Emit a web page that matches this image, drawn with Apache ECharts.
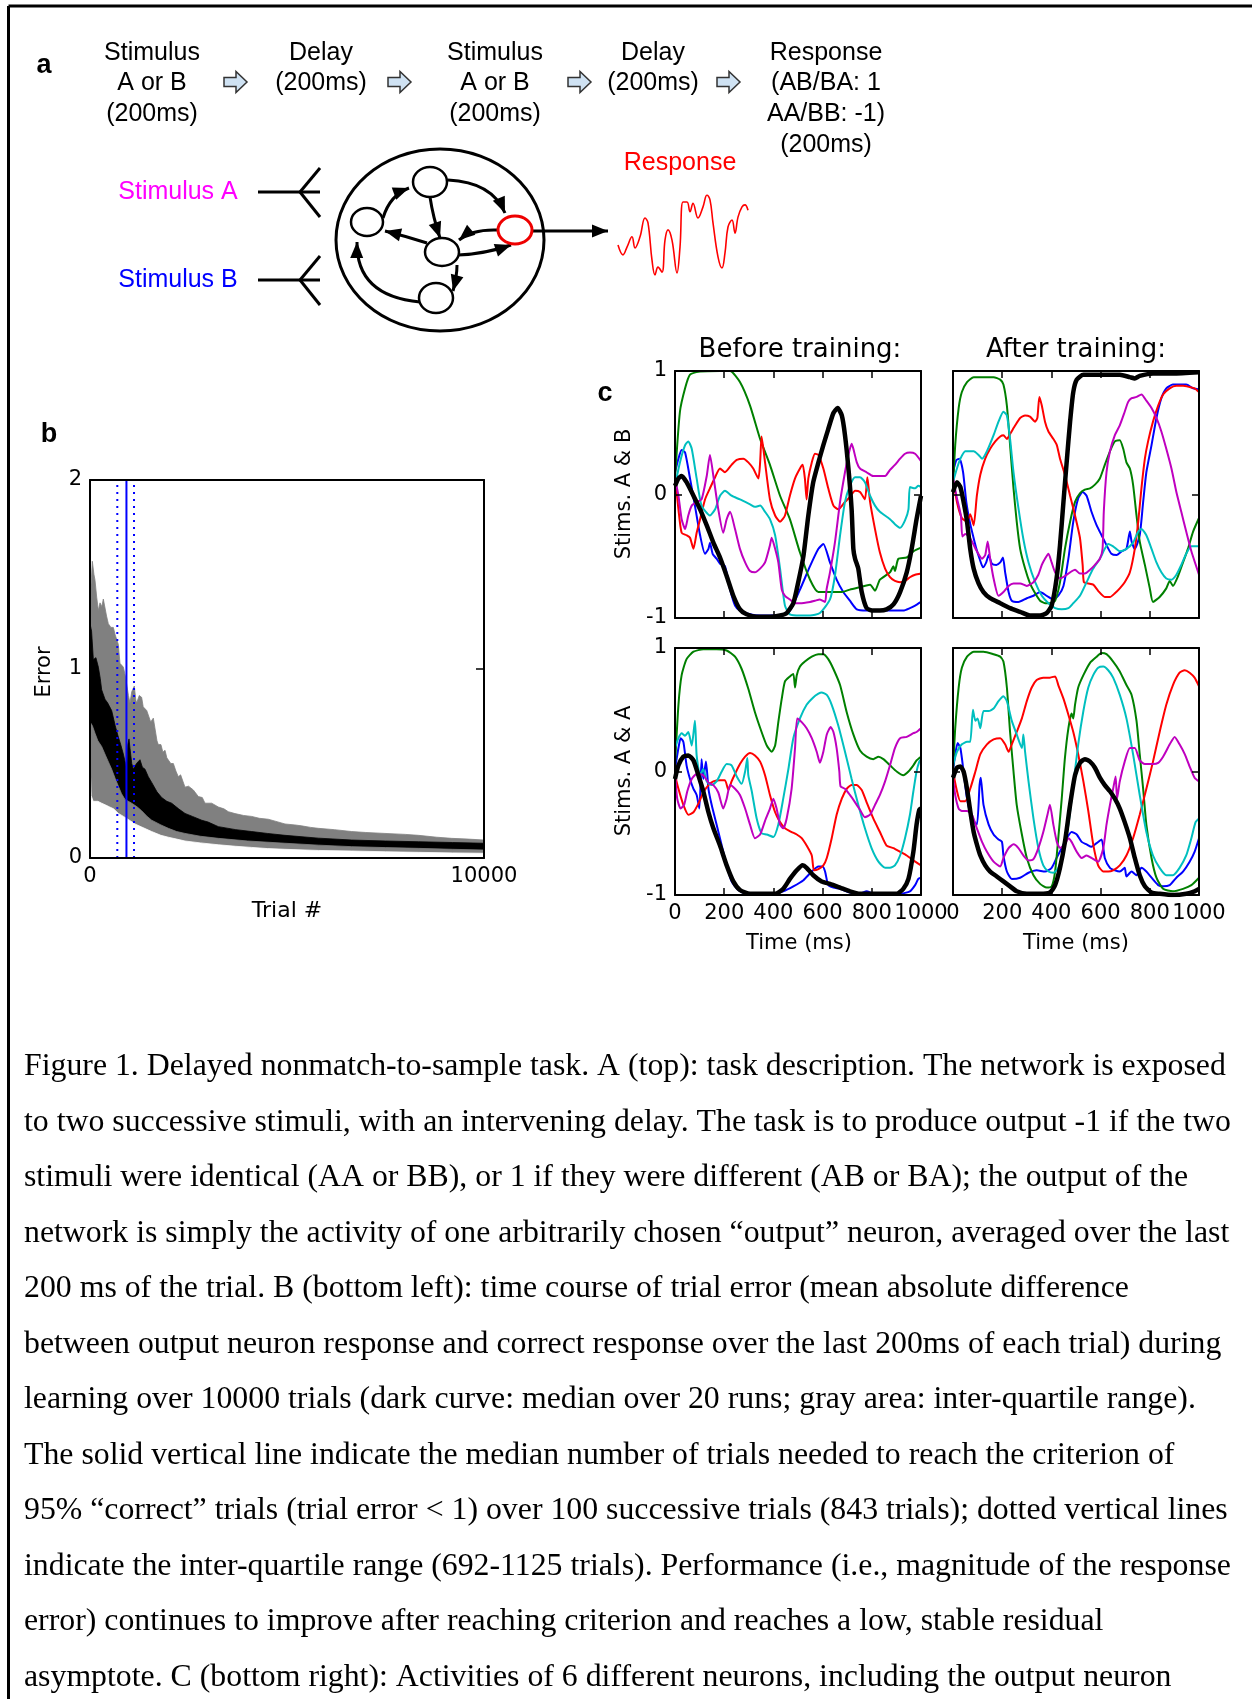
<!DOCTYPE html>
<html><head><meta charset="utf-8">
<script src="https://cdn.jsdelivr.net/npm/echarts@6/dist/echarts.min.js"></script>
<style>html,body{margin:0;padding:0;background:#fff;}#c{width:1252px;height:1699px;}</style>
</head><body><div id="c"></div>
<script>
// ---------- Panel b: learning curve (trial #, error) ----------
const trialRange = [0, 10000];
const errorRange = [0, 2];
const grayUpper = [[0,1.35],[59,1.57],[100,1.5],[127,1.47],[170,1.38],[212,1.31],[254,1.35],[300,1.33],[338,1.37],[381,1.36],[420,1.28],[465,1.24],[530,1.22],[592,1.22],[640,1.18],[677,1.17],[719,1.13],[761,1.03],[800,1.04],[846,1.01],[890,0.97],[931,0.92],[975,0.86],[1015,0.82],[1060,0.88],[1125,0.91],[1160,0.84],[1184,0.82],[1250,0.86],[1311,0.85],[1350,0.8],[1396,0.8],[1440,0.78],[1481,0.78],[1540,0.72],[1607,0.74],[1650,0.74],[1700,0.62],[1734,0.6],[1800,0.6],[1850,0.56],[1904,0.57],[1950,0.53],[1988,0.54],[2050,0.5],[2115,0.5],[2180,0.46],[2242,0.43],[2300,0.44],[2411,0.375],[2500,0.38],[2623,0.36],[2750,0.325],[2850,0.32],[2919,0.29],[3088,0.29],[3257,0.27],[3400,0.26],[3511,0.245],[3680,0.235],[3900,0.225],[4103,0.22],[4300,0.21],[4526,0.205],[4700,0.195],[4949,0.18],[5200,0.175],[5372,0.17],[5600,0.162],[5795,0.157],[6200,0.15],[6641,0.14],[7000,0.135],[7487,0.13],[8000,0.125],[8333,0.12],[8800,0.11],[9179,0.104],[9600,0.1],[10000,0.095]];
const grayLower = [[0,0.5],[30,0.33],[80,0.3],[200,0.3],[296,0.29],[400,0.28],[500,0.27],[600,0.26],[719,0.236],[850,0.22],[1000,0.2],[1142,0.18],[1300,0.165],[1565,0.14],[1800,0.12],[1988,0.11],[2200,0.1],[2411,0.09],[2800,0.08],[3257,0.07],[3700,0.062],[4103,0.056],[4500,0.05],[4949,0.046],[5800,0.04],[6641,0.037],[7500,0.033],[8333,0.03],[9200,0.027],[10000,0.025]];
const medianUpper = [[0,1.24],[40,1.2],[85,1.05],[150,1.06],[212,1.01],[260,0.95],[296,0.89],[381,0.84],[450,0.82],[550,0.78],[640,0.7],[719,0.64],[780,0.6],[846,0.55],[900,0.5],[931,0.47],[960,0.6],[990,0.63],[1015,0.58],[1060,0.5],[1100,0.47],[1180,0.5],[1269,0.52],[1330,0.48],[1396,0.47],[1480,0.43],[1565,0.4],[1700,0.35],[1819,0.32],[1950,0.3],[2073,0.29],[2250,0.26],[2411,0.236],[2600,0.22],[2834,0.2],[3000,0.19],[3257,0.166],[3700,0.15],[4103,0.14],[4500,0.13],[4949,0.12],[5800,0.105],[6641,0.095],[7500,0.09],[8333,0.086],[9200,0.082],[10000,0.078]];
const medianLower = [[0,0.72],[60,0.7],[127,0.66],[200,0.62],[296,0.59],[400,0.54],[550,0.47],[640,0.42],[719,0.38],[800,0.34],[888,0.31],[1058,0.29],[1200,0.27],[1311,0.25],[1450,0.22],[1565,0.2],[1800,0.175],[1988,0.157],[2200,0.14],[2411,0.13],[2800,0.115],[3257,0.104],[4000,0.09],[4949,0.078],[5800,0.068],[6641,0.06],[7500,0.055],[8333,0.051],[9200,0.046],[10000,0.042]];
const criterionMedian = 925;
const criterionQ1 = 693;
const criterionQ3 = 1117;

// ---------- Panel c: neuron activities (time ms, activity) ----------
const timeTicks = [0, 200, 400, 600, 800, 1000];
const beforeAB_blue = [[0,0.18],[14,0.29],[27,0.36],[41,0.34],[61,0.13],[81,-0.09],[102,-0.33],[122,-0.48],[136,-0.44],[142,-0.39],[153,-0.48],[169,-0.52],[183,-0.56],[203,-0.58],[224,-0.77],[244,-0.9],[264,-0.94],[305,-0.97],[346,-0.98],[427,-0.98],[467,-0.94],[508,-0.77],[549,-0.58],[583,-0.44],[603,-0.4],[630,-0.55],[657,-0.69],[684,-0.79],[711,-0.86],[739,-0.93],[779,-0.94],[833,-0.94],[888,-0.94],[928,-0.94],[955,-0.92],[976,-0.9],[1000,-0.87]];
const beforeAB_green = [[0,0.13],[20,0.67],[41,0.86],[61,0.97],[102,0.995],[183,1.0],[224,1.0],[264,0.91],[305,0.72],[346,0.45],[386,0.24],[427,-0.01],[467,-0.2],[508,-0.47],[549,-0.69],[583,-0.79],[630,-0.79],[678,-0.79],[711,-0.77],[752,-0.75],[793,-0.73],[813,-0.78],[833,-0.69],[874,-0.63],[888,-0.58],[894,-0.62],[908,-0.52],[942,-0.51],[969,-0.46],[1000,-0.43]];
const beforeAB_red = [[0,0.15],[14,-0.12],[27,-0.31],[47,-0.33],[61,-0.35],[75,-0.44],[88,-0.31],[102,-0.2],[122,-0.04],[142,0.05],[163,0.14],[183,0.21],[203,0.18],[230,0.24],[251,0.28],[278,0.29],[298,0.26],[318,0.21],[339,0.13],[346,0.26],[352,0.47],[366,0.26],[386,-0.04],[407,-0.17],[427,-0.22],[447,-0.17],[467,-0.01],[488,0.13],[508,0.21],[519,0.24],[528,0.13],[535,-0.04],[542,0.13],[556,0.26],[569,0.33],[583,0.32],[603,0.21],[623,0.05],[644,-0.09],[664,-0.12],[691,-0.06],[711,-0.02],[732,0.03],[752,0.02],[772,-0.04],[782,0.14],[793,-0.06],[813,-0.28],[833,-0.47],[854,-0.6],[874,-0.67],[894,-0.7],[915,-0.71],[935,-0.7],[955,-0.67],[976,-0.65],[1000,-0.64]];
const beforeAB_cyan = [[0,0.07],[20,0.26],[41,0.4],[54,0.43],[68,0.37],[88,0.13],[108,-0.09],[142,-0.17],[163,-0.12],[183,-0.01],[203,0.03],[230,-0.01],[264,-0.04],[305,-0.08],[325,-0.1],[346,-0.09],[366,-0.14],[386,-0.2],[407,-0.33],[427,-0.6],[447,-0.9],[467,-0.97],[508,-0.98],[549,-0.98],[589,-0.96],[630,-0.85],[650,-0.66],[671,-0.33],[691,-0.06],[711,0.07],[732,0.14],[752,0.14],[772,0.1],[793,-0.01],[813,-0.09],[833,-0.14],[874,-0.2],[894,-0.24],[915,-0.27],[935,-0.21],[949,-0.12],[955,0.06],[976,0.05],[989,0.07],[1000,0.06]];
const beforeAB_magenta = [[0,0.13],[14,-0.01],[27,-0.2],[41,-0.28],[54,-0.17],[68,-0.09],[88,-0.06],[108,-0.04],[129,0.15],[142,0.32],[156,0.15],[176,-0.12],[196,-0.31],[210,-0.2],[224,-0.14],[244,-0.28],[264,-0.44],[285,-0.55],[305,-0.62],[325,-0.63],[346,-0.6],[366,-0.55],[386,-0.41],[393,-0.35],[407,-0.44],[420,-0.55],[434,-0.77],[447,-0.82],[467,-0.85],[488,-0.88],[508,-0.88],[549,-0.87],[569,-0.86],[589,-0.85],[610,-0.87],[616,-0.77],[630,-0.63],[650,-0.39],[671,-0.06],[691,0.18],[705,0.32],[718,0.41],[725,0.37],[739,0.26],[752,0.21],[779,0.18],[806,0.15],[833,0.15],[854,0.15],[874,0.2],[894,0.24],[915,0.29],[935,0.33],[955,0.34],[976,0.33],[1000,0.27]];
const beforeAB_output = [[0,0.07],[14,0.13],[27,0.15],[47,0.1],[75,-0.01],[102,-0.12],[129,-0.25],[156,-0.39],[183,-0.51],[210,-0.66],[237,-0.82],[264,-0.93],[291,-0.97],[332,-0.99],[386,-0.99],[427,-0.98],[454,-0.96],[481,-0.88],[501,-0.71],[522,-0.5],[542,-0.17],[562,0.1],[583,0.26],[603,0.4],[623,0.53],[644,0.66],[661,0.7],[678,0.64],[691,0.48],[705,0.21],[718,-0.12],[725,-0.44],[732,-0.52],[745,-0.6],[759,-0.79],[779,-0.92],[806,-0.94],[833,-0.94],[860,-0.93],[888,-0.89],[915,-0.79],[942,-0.63],[962,-0.44],[982,-0.2],[1000,-0.01]];

const afterAB_blue = [[0,0.18],[14,0.28],[27,0.29],[41,0.18],[54,-0.06],[68,-0.22],[81,-0.33],[95,-0.44],[108,-0.52],[122,-0.59],[135,-0.55],[145,-0.49],[158,-0.56],[176,-0.57],[192,-0.55],[203,-0.51],[212,-0.63],[226,-0.79],[239,-0.86],[266,-0.87],[300,-0.84],[327,-0.82],[354,-0.79],[381,-0.82],[408,-0.85],[428,-0.82],[449,-0.74],[469,-0.52],[489,-0.22],[509,-0.03],[527,0.02],[543,-0.01],[563,-0.14],[584,-0.25],[604,-0.33],[624,-0.41],[644,-0.48],[665,-0.49],[685,-0.46],[705,-0.44],[719,-0.3],[726,-0.38],[739,-0.44],[759,-0.33],[773,-0.06],[786,0.18],[807,0.4],[827,0.62],[847,0.78],[867,0.86],[894,0.89],[921,0.89],[948,0.89],[976,0.86],[1000,0.85]];
const afterAB_green = [[0,0.05],[9,0.4],[23,0.7],[36,0.83],[57,0.91],[84,0.95],[124,0.95],[165,0.95],[192,0.93],[205,0.89],[219,0.72],[232,0.4],[246,0.05],[259,-0.22],[273,-0.44],[293,-0.6],[313,-0.72],[334,-0.8],[354,-0.86],[374,-0.88],[394,-0.88],[415,-0.86],[435,-0.71],[455,-0.44],[476,-0.22],[496,-0.06],[516,0.01],[536,0.04],[557,0.05],[577,0.08],[597,0.13],[617,0.24],[638,0.35],[658,0.43],[678,0.44],[692,0.37],[705,0.26],[719,0.21],[732,0.08],[746,-0.17],[759,-0.38],[780,-0.57],[800,-0.76],[813,-0.87],[840,-0.83],[867,-0.76],[881,-0.7],[894,-0.74],[915,-0.66],[935,-0.55],[955,-0.44],[976,-0.3],[1000,-0.19]];
const afterAB_red = [[0,0.13],[16,-0.06],[36,-0.19],[57,-0.22],[70,-0.16],[84,-0.25],[97,-0.01],[111,0.16],[131,0.29],[151,0.37],[172,0.43],[192,0.47],[205,0.48],[219,0.45],[232,0.49],[253,0.56],[273,0.62],[293,0.64],[313,0.63],[334,0.59],[343,0.62],[351,0.79],[361,0.72],[374,0.59],[388,0.51],[408,0.45],[422,0.4],[435,0.29],[455,0.16],[476,-0.01],[496,-0.17],[516,-0.35],[527,-0.57],[532,-0.71],[550,-0.72],[570,-0.73],[590,-0.78],[617,-0.83],[638,-0.83],[658,-0.8],[678,-0.76],[698,-0.71],[719,-0.63],[739,-0.44],[753,-0.22],[766,0.05],[780,0.29],[793,0.43],[813,0.59],[834,0.72],[854,0.81],[881,0.86],[908,0.88],[935,0.88],[962,0.87],[982,0.86],[1000,0.83]];
const afterAB_cyan = [[0,0.1],[16,0.21],[30,0.29],[50,0.35],[84,0.35],[104,0.32],[118,0.29],[138,0.35],[165,0.48],[185,0.59],[205,0.67],[219,0.64],[232,0.45],[246,0.18],[266,-0.11],[286,-0.36],[307,-0.55],[334,-0.71],[361,-0.82],[388,-0.88],[415,-0.92],[442,-0.93],[469,-0.92],[489,-0.88],[516,-0.82],[543,-0.71],[570,-0.6],[597,-0.52],[617,-0.44],[631,-0.4],[651,-0.42],[678,-0.46],[705,-0.44],[732,-0.39],[753,-0.3],[766,-0.28],[786,-0.33],[807,-0.44],[827,-0.55],[847,-0.63],[867,-0.68],[888,-0.69],[908,-0.65],[928,-0.57],[948,-0.48],[969,-0.42],[1000,-0.42]];
const afterAB_magenta = [[0,0.13],[16,-0.03],[32,-0.17],[38,-0.34],[50,-0.32],[64,-0.34],[77,-0.38],[97,-0.46],[118,-0.52],[131,-0.49],[141,-0.38],[151,-0.52],[165,-0.68],[185,-0.82],[205,-0.79],[226,-0.74],[246,-0.72],[273,-0.72],[300,-0.74],[327,-0.71],[347,-0.65],[361,-0.57],[374,-0.52],[388,-0.48],[401,-0.55],[415,-0.63],[435,-0.68],[455,-0.66],[476,-0.63],[496,-0.61],[516,-0.64],[536,-0.64],[557,-0.61],[577,-0.57],[597,-0.52],[608,-0.44],[613,-0.14],[624,0.18],[638,0.35],[658,0.48],[678,0.56],[698,0.67],[712,0.75],[726,0.78],[746,0.79],[766,0.81],[786,0.76],[807,0.7],[827,0.62],[847,0.51],[867,0.37],[888,0.21],[908,0.02],[928,-0.14],[948,-0.3],[969,-0.46],[1000,-0.65]];
const afterAB_output = [[0,0.02],[16,0.1],[30,0.06],[43,-0.06],[57,-0.22],[70,-0.44],[84,-0.6],[104,-0.72],[124,-0.79],[151,-0.84],[192,-0.88],[232,-0.92],[273,-0.95],[313,-0.98],[354,-0.98],[381,-0.96],[401,-0.9],[421,-0.68],[435,-0.41],[449,-0.06],[462,0.26],[476,0.59],[489,0.83],[503,0.93],[530,0.97],[570,0.97],[624,0.97],[678,0.97],[719,0.95],[739,0.94],[759,0.96],[813,0.98],[894,0.98],[1000,0.99]];

const beforeAA_blue = [[0,0.02],[14,0.19],[23,0.27],[34,0.24],[47,0.05],[61,-0.06],[75,-0.14],[88,-0.19],[99,-0.3],[108,0.1],[115,-0.06],[126,0.08],[136,-0.14],[149,-0.27],[169,-0.43],[190,-0.6],[210,-0.76],[230,-0.89],[257,-0.96],[291,-0.99],[346,-0.99],[400,-0.99],[440,-0.97],[481,-0.93],[522,-0.88],[556,-0.81],[583,-0.77],[600,-0.77],[610,-0.81],[623,-0.92],[644,-0.94],[671,-0.95],[711,-0.98],[752,-0.99],[779,-0.97],[806,-0.99],[860,-0.99],[915,-0.99],[955,-0.97],[976,-0.92],[989,-0.87],[1000,-0.86]];
const beforeAA_green = [[0,0.05],[14,0.54],[27,0.78],[47,0.91],[75,0.97],[115,0.99],[169,0.99],[210,0.98],[244,0.93],[271,0.83],[298,0.67],[325,0.48],[352,0.32],[373,0.21],[393,0.16],[407,0.21],[420,0.4],[434,0.59],[447,0.73],[467,0.77],[481,0.79],[488,0.68],[495,0.78],[508,0.85],[528,0.89],[556,0.93],[583,0.95],[603,0.95],[623,0.91],[644,0.83],[671,0.7],[698,0.48],[725,0.3],[752,0.17],[779,0.12],[806,0.1],[827,0.12],[847,0.1],[874,0.05],[901,0],[928,-0.03],[949,0],[969,0.05],[982,0.09],[1000,0.12]];
const beforeAA_red = [[0,-0.03],[14,-0.14],[34,-0.27],[54,-0.35],[75,-0.33],[95,-0.26],[115,-0.17],[136,-0.11],[156,-0.08],[183,-0.07],[203,-0.07],[217,-0.15],[230,-0.08],[244,-0.02],[264,0.06],[285,0.12],[305,0.15],[325,0.13],[346,0.08],[366,-0.03],[386,-0.19],[407,-0.33],[427,-0.41],[447,-0.46],[474,-0.49],[495,-0.51],[515,-0.54],[535,-0.6],[556,-0.68],[565,-0.8],[583,-0.79],[603,-0.76],[617,-0.7],[637,-0.54],[657,-0.35],[678,-0.22],[698,-0.14],[718,-0.11],[738,-0.11],[759,-0.15],[779,-0.25],[806,-0.38],[833,-0.49],[860,-0.6],[888,-0.62],[915,-0.65],[942,-0.68],[969,-0.72],[1000,-0.76]];
const beforeAA_cyan = [[0,0.19],[14,0.27],[27,0.31],[41,0.29],[54,0.32],[68,0.21],[81,0.41],[88,0.13],[102,-0.03],[115,0.02],[129,-0.08],[149,-0.11],[169,-0.08],[190,0],[210,0.06],[230,0.05],[251,-0.04],[271,-0.1],[285,0],[294,0.11],[298,-0.03],[312,-0.16],[332,-0.38],[352,-0.5],[373,-0.51],[400,-0.53],[420,-0.43],[440,-0.22],[461,0.02],[481,0.27],[508,0.43],[535,0.54],[562,0.6],[583,0.63],[596,0.64],[617,0.62],[637,0.54],[664,0.37],[691,0.16],[718,-0.06],[745,-0.27],[772,-0.46],[799,-0.62],[827,-0.73],[854,-0.78],[874,-0.78],[894,-0.76],[915,-0.68],[935,-0.54],[955,-0.35],[969,-0.16],[982,0],[993,0.08],[1000,0.1]];
const beforeAA_magenta = [[0,0],[9,-0.22],[23,-0.3],[37,-0.27],[50,-0.16],[68,-0.06],[88,-0.02],[115,-0.03],[136,-0.09],[156,-0.11],[176,-0.17],[196,-0.3],[210,-0.22],[224,-0.11],[244,-0.14],[264,-0.19],[285,-0.3],[305,-0.43],[325,-0.54],[346,-0.51],[366,-0.4],[386,-0.3],[400,-0.22],[413,-0.3],[427,-0.43],[440,-0.46],[454,-0.38],[474,-0.14],[488,0.19],[497,0.43],[515,0.4],[535,0.35],[556,0.27],[576,0.16],[589,0.07],[603,0.16],[617,0.3],[633,0.36],[644,0.32],[657,0.19],[668,0],[673,-0.12],[691,-0.14],[711,-0.19],[732,-0.25],[752,-0.31],[772,-0.37],[793,-0.35],[813,-0.27],[833,-0.19],[854,-0.08],[874,0.05],[894,0.19],[915,0.27],[942,0.28],[969,0.31],[982,0.32],[1000,0.35]];
const beforeAA_output = [[0,-0.06],[14,0.05],[34,0.12],[54,0.13],[75,0.09],[95,-0.03],[115,-0.16],[136,-0.33],[156,-0.46],[183,-0.6],[210,-0.76],[237,-0.89],[264,-0.96],[305,-0.99],[359,-0.99],[407,-0.99],[440,-0.95],[467,-0.87],[495,-0.8],[519,-0.76],[535,-0.78],[562,-0.84],[596,-0.89],[630,-0.91],[671,-0.94],[711,-0.97],[752,-0.99],[806,-0.99],[860,-0.99],[901,-0.99],[928,-0.95],[949,-0.87],[969,-0.65],[982,-0.43],[993,-0.31],[1000,-0.3]];

const afterAA_blue = [[0,0],[9,0.14],[19,0.23],[30,0.19],[43,0],[57,-0.22],[77,-0.38],[97,-0.43],[108,-0.11],[113,-0.05],[124,-0.27],[145,-0.43],[165,-0.51],[185,-0.55],[199,-0.57],[205,-0.68],[219,-0.81],[239,-0.87],[273,-0.86],[307,-0.82],[340,-0.8],[374,-0.81],[401,-0.78],[421,-0.7],[442,-0.62],[462,-0.54],[482,-0.49],[503,-0.51],[523,-0.57],[543,-0.59],[563,-0.61],[584,-0.58],[604,-0.55],[617,-0.7],[638,-0.78],[658,-0.8],[678,-0.81],[698,-0.78],[705,-0.85],[726,-0.81],[746,-0.84],[766,-0.78],[786,-0.81],[807,-0.86],[834,-0.92],[854,-0.93],[881,-0.92],[908,-0.86],[935,-0.81],[962,-0.73],[982,-0.65],[1000,-0.54]];
const afterAA_green = [[0,0],[9,0.35],[23,0.68],[36,0.84],[57,0.93],[84,0.97],[124,0.97],[165,0.95],[192,0.93],[205,0.89],[219,0.68],[232,0.32],[246,0],[259,-0.27],[280,-0.51],[300,-0.7],[327,-0.84],[354,-0.91],[381,-0.94],[401,-0.93],[415,-0.81],[428,-0.54],[442,-0.22],[455,0.11],[469,0.35],[482,0.47],[489,0.43],[496,0.54],[509,0.68],[530,0.78],[557,0.88],[584,0.93],[604,0.96],[624,0.95],[651,0.89],[678,0.81],[705,0.7],[726,0.62],[746,0.41],[759,0.14],[773,-0.14],[786,-0.43],[807,-0.7],[827,-0.86],[854,-0.95],[894,-0.97],[935,-0.95],[969,-0.92],[1000,-0.86]];
const afterAA_red = [[0,0],[14,-0.14],[30,-0.24],[50,-0.24],[70,-0.14],[91,0],[111,0.14],[138,0.22],[165,0.26],[192,0.27],[212,0.22],[226,0.16],[239,0.22],[259,0.32],[280,0.43],[300,0.57],[320,0.68],[340,0.74],[367,0.76],[394,0.76],[415,0.77],[428,0.7],[449,0.59],[469,0.46],[489,0.32],[509,0.14],[530,-0.08],[550,-0.32],[570,-0.59],[590,-0.76],[611,-0.81],[631,-0.81],[651,-0.8],[678,-0.76],[705,-0.68],[732,-0.54],[759,-0.35],[786,-0.14],[813,0.08],[840,0.32],[867,0.54],[894,0.7],[921,0.8],[942,0.82],[962,0.8],[982,0.76],[1000,0.69]];
const afterAA_cyan = [[0,0.05],[16,0.16],[36,0.22],[57,0.24],[70,0.24],[81,0.5],[91,0.41],[100,0.43],[111,0.35],[124,0.49],[145,0.49],[165,0.51],[185,0.57],[205,0.61],[219,0.57],[239,0.41],[259,0.3],[280,0.19],[286,0.3],[293,0.16],[307,-0.08],[327,-0.38],[347,-0.62],[367,-0.76],[388,-0.81],[408,-0.82],[428,-0.78],[449,-0.65],[469,-0.43],[489,-0.11],[509,0.22],[530,0.49],[550,0.68],[570,0.78],[590,0.84],[611,0.85],[631,0.82],[651,0.76],[678,0.62],[705,0.43],[732,0.14],[759,-0.19],[786,-0.49],[813,-0.68],[840,-0.78],[867,-0.84],[894,-0.84],[921,-0.78],[948,-0.68],[969,-0.54],[986,-0.41],[1000,-0.38]];
const afterAA_magenta = [[0,-0.05],[9,-0.19],[23,-0.3],[36,-0.32],[57,-0.32],[77,-0.35],[97,-0.46],[118,-0.57],[138,-0.65],[165,-0.73],[192,-0.77],[205,-0.7],[226,-0.62],[246,-0.59],[266,-0.62],[286,-0.68],[307,-0.72],[327,-0.71],[347,-0.62],[367,-0.49],[384,-0.35],[394,-0.27],[408,-0.43],[422,-0.57],[435,-0.62],[455,-0.59],[469,-0.54],[482,-0.57],[503,-0.65],[523,-0.7],[543,-0.68],[563,-0.7],[590,-0.73],[611,-0.62],[624,-0.43],[638,-0.27],[651,-0.14],[661,-0.04],[667,-0.22],[678,-0.08],[698,0.08],[719,0.19],[739,0.19],[759,0.09],[780,0.06],[813,0.06],[834,0.07],[854,0.12],[881,0.22],[901,0.28],[921,0.22],[942,0.14],[962,0.04],[982,-0.05],[1000,-0.08]];
const afterAA_output = [[0,-0.05],[16,0.03],[30,0.04],[43,0],[57,-0.14],[70,-0.32],[84,-0.49],[97,-0.59],[111,-0.68],[131,-0.76],[151,-0.81],[178,-0.85],[205,-0.89],[232,-0.93],[259,-0.97],[300,-0.99],[354,-0.99],[394,-0.98],[415,-0.92],[435,-0.78],[455,-0.57],[476,-0.27],[496,-0.03],[516,0.07],[536,0.1],[557,0.08],[577,0.03],[597,-0.05],[617,-0.11],[638,-0.16],[658,-0.22],[678,-0.3],[698,-0.41],[719,-0.54],[739,-0.7],[759,-0.84],[780,-0.93],[807,-0.98],[840,-0.99],[894,-1.0],[948,-0.99],[982,-0.97],[1000,-0.95]];

// schematic response trace (time, amplitude)
const responseTrace = [[0,-0.22],[5,-0.46],[9,-0.27],[14,-0.02],[17,-0.29],[22,-0.02],[27,0.44],[30,0.32],[34,-0.59],[37,-0.95],[40,-0.76],[44,-0.88],[47,-0.1],[50,0.15],[54,-0.1],[59,-0.9],[62,-0.27],[65,0.83],[69,0.83],[72,0.59],[75,0.8],[80,0.44],[85,0.71],[89,1.0],[92,0.88],[95,0.32],[100,-0.51],[104,-0.78],[107,-0.41],[110,0.22],[114,0.39],[117,0.07],[120,0.46],[124,0.71],[127,0.76],[130,0.63]];

const captionLines = [
"Figure 1. Delayed nonmatch-to-sample task. A (top): task description. The network is exposed",
"to two successive stimuli, with an intervening delay. The task is to produce output -1 if the two",
"stimuli were identical (AA or BB), or 1 if they were different (AB or BA); the output of the",
"network is simply the activity of one arbitrarily chosen \u201coutput\u201d neuron, averaged over the last",
"200 ms of the trial. B (bottom left): time course of trial error (mean absolute difference",
"between output neuron response and correct response over the last 200ms of each trial) during",
"learning over 10000 trials (dark curve: median over 20 runs; gray area: inter-quartile range).",
"The solid vertical line indicate the median number of trials needed to reach the criterion of",
"95% \u201ccorrect\u201d trials (trial error < 1) over 100 successive trials (843 trials); dotted vertical lines",
"indicate the inter-quartile range (692-1125 trials). Performance (i.e., magnitude of the response",
"error) continues to improve after reaching criterion and reaches a low, stable residual",
"asymptote. C (bottom right): Activities of 6 different neurons, including the output neuron"
];

// ---------- build ----------
const FONT = 'DejaVu Sans';
const SANS = 'Liberation Sans';
const chart = echarts.init(document.getElementById('c'), null, {renderer: 'canvas'});

const grids = [
  {left: 90, top: 480, width: 394, height: 378},
  {left: 675, top: 371, width: 246, height: 247},
  {left: 953, top: 371, width: 246, height: 247},
  {left: 675, top: 648, width: 246, height: 247},
  {left: 953, top: 648, width: 246, height: 247},
  {left: 618, top: 195, width: 130, height: 82}
].map(g => Object.assign({containLabel: false, outerBoundsMode: 'none', show: false}, g));

const lineAx = {show: true, onZero: false, lineStyle: {color: '#000', width: 2}};
const plain = v => String(v);
const lbl = (show) => ({show, fontFamily: FONT, fontSize: 21, color: '#000', margin: 8, formatter: plain});
const xAxes = [], yAxes = [];
// panel b
xAxes.push({gridIndex: 0, type: 'value', position: 'bottom', min: trialRange[0], max: trialRange[1], interval: 10000,
  axisLine: lineAx, axisTick: {show: false}, axisLabel: lbl(true), splitLine: {show: false}, z: 10});
xAxes.push({gridIndex: 0, type: 'value', position: 'top', min: trialRange[0], max: trialRange[1], interval: 10000,
  axisLine: lineAx, axisTick: {show: false}, axisLabel: {show: false}, splitLine: {show: false}, z: 10});
yAxes.push({gridIndex: 0, type: 'value', position: 'left', min: errorRange[0], max: errorRange[1], interval: 1,
  axisLine: lineAx, axisTick: {show: true, inside: true, length: 8, lineStyle: {color: '#000', width: 1.5}}, axisLabel: lbl(true), splitLine: {show: false}, z: 10});
yAxes.push({gridIndex: 0, type: 'value', position: 'right', min: errorRange[0], max: errorRange[1], interval: 1,
  axisLine: lineAx, axisTick: {show: true, inside: true, length: 8, lineStyle: {color: '#000', width: 1.5}}, axisLabel: {show: false}, splitLine: {show: false}, z: 10});
// panel c
for (let g = 1; g <= 4; g++) {
  const isBottom = g >= 3, isLeft = (g % 2) === 1;
  const tick = {show: true, inside: true, length: 7, lineStyle: {color: '#000', width: 1.5}};
  xAxes.push({gridIndex: g, type: 'value', position: 'bottom', min: timeTicks[0], max: timeTicks[timeTicks.length-1], interval: 200,
    axisLine: lineAx, axisTick: tick, axisLabel: Object.assign(lbl(isBottom), {showMinLabel: true, showMaxLabel: true, hideOverlap: false}), splitLine: {show: false}, z: 10});
  xAxes.push({gridIndex: g, type: 'value', position: 'top', min: 0, max: 1000, interval: 200,
    axisLine: lineAx, axisTick: tick, axisLabel: {show: false}, splitLine: {show: false}, z: 10});
  yAxes.push({gridIndex: g, type: 'value', position: 'left', min: -1, max: 1, interval: 1,
    axisLine: lineAx, axisTick: tick, axisLabel: lbl(isLeft), splitLine: {show: false}, z: 10});
  yAxes.push({gridIndex: g, type: 'value', position: 'right', min: -1, max: 1, interval: 1,
    axisLine: lineAx, axisTick: tick, axisLabel: {show: false}, splitLine: {show: false}, z: 10});
}
// schematic trace grid
xAxes.push({gridIndex: 5, type: 'value', min: 0, max: 130, show: false});
xAxes.push({gridIndex: 5, type: 'value', min: 0, max: 130, show: false, position: 'top'});
yAxes.push({gridIndex: 5, type: 'value', min: -1, max: 1, show: false});
yAxes.push({gridIndex: 5, type: 'value', min: -1, max: 1, show: false, position: 'right'});

const series = [];
function fill(data, color, z) {
  series.push({type: 'line', xAxisIndex: 0, yAxisIndex: 0, data, showSymbol: false, symbol: 'none',
    lineStyle: {width: 0.8, color}, areaStyle: {color, opacity: 1, origin: 'start'}, z, silent: true});
}
fill(grayUpper, '#808080', 2);
fill(medianUpper, '#000000', 3);
fill(medianLower, '#808080', 4);
fill(grayLower, '#ffffff', 5);
function vline(x, type) {
  series.push({type: 'line', xAxisIndex: 0, yAxisIndex: 0, data: [[x, errorRange[0]], [x, errorRange[1]]], showSymbol: false, symbol: 'none',
    lineStyle: {color: '#0000ff', width: 2, type}, z: 6, silent: true});
}
vline(criterionMedian, 'solid');
vline(criterionQ1, [2, 5]);
vline(criterionQ3, [2, 5]);

const COLORS = {blue: '#0000ff', green: '#008000', red: '#ff0000', cyan: '#00bfbf', magenta: '#bf00bf', output: '#000000'};
const panels = [
  [beforeAB_blue, beforeAB_green, beforeAB_red, beforeAB_cyan, beforeAB_magenta, beforeAB_output],
  [afterAB_blue, afterAB_green, afterAB_red, afterAB_cyan, afterAB_magenta, afterAB_output],
  [beforeAA_blue, beforeAA_green, beforeAA_red, beforeAA_cyan, beforeAA_magenta, beforeAA_output],
  [afterAA_blue, afterAA_green, afterAA_red, afterAA_cyan, afterAA_magenta, afterAA_output]
];
const order = ['blue', 'green', 'red', 'cyan', 'magenta', 'output'];
panels.forEach((arrs, pi) => {
  const g = pi + 1;
  arrs.forEach((d, k) => {
    const isOut = order[k] === 'output';
    series.push({type: 'line', xAxisIndex: g * 2, yAxisIndex: g * 2, data: d, showSymbol: false, symbol: 'none',
      smooth: 0.2, lineStyle: {color: COLORS[order[k]], width: isOut ? 4.5 : 2}, z: isOut ? 8 : 3 + k * 0.1, silent: true});
  });
});
series.push({type: 'line', xAxisIndex: 10, yAxisIndex: 10, data: responseTrace, showSymbol: false, symbol: 'none', smooth: 0.4,
  lineStyle: {color: '#ff0000', width: 1.6}, silent: true});

// ---------- graphics ----------
const G = [];
function txt(x, y, text, size, opts) {
  opts = opts || {};
  const family = opts.family || SANS;
  G.push({type: 'text', x, y, rotation: opts.rotation || 0, z: 20,
    style: {text, fill: opts.color || '#000', font: (opts.weight || 'normal') + ' ' + size + 'px "' + family + '"',
      align: opts.align || 'center', textAlign: opts.align || 'center', verticalAlign: 'middle', textVerticalAlign: 'middle'}});
}
function seg(x1, y1, x2, y2, w, c) {
  G.push({type: 'line', shape: {x1, y1, x2, y2}, style: {stroke: c || '#000', lineWidth: w}, z: 20});
}
// frame
seg(8.5, 6, 1252, 6, 3);
seg(8.5, 6, 8.5, 1699, 3);
// panel a header texts
txt(44, 66, 'a', 27, {weight: 'bold'});
const rows = [53, 83, 114, 145];
[[152, ['Stimulus', 'A or B', '(200ms)']], [321, ['Delay', '(200ms)']], [495, ['Stimulus', 'A or B', '(200ms)']],
 [653, ['Delay', '(200ms)']], [826, ['Response', '(AB/BA: 1', 'AA/BB: -1)', '(200ms)']]].forEach(([x, ls]) => {
  ls.forEach((s, i) => txt(x, rows[i], s, 25));
});
// block arrows
[235, 399, 579, 728].forEach(cx => {
  const cy = 82;
  G.push({type: 'polygon', z: 20, shape: {points: [[cx-11, cy-4.5], [cx+1, cy-4.5], [cx+1, cy-10.5], [cx+12, cy], [cx+1, cy+10.5], [cx+1, cy+4.5], [cx-11, cy+4.5]]},
    style: {fill: '#cfe2f3', stroke: '#333', lineWidth: 1.5}});
});
// stimulus labels and input forks
txt(178, 192, 'Stimulus A', 25, {color: '#ff00ff'});
txt(178, 280, 'Stimulus B', 25, {color: '#0000ff'});
[[192], [280]].forEach(([y]) => {
  seg(258, y, 320, y, 3);
  seg(300, y, 320, y - 24, 3);
  seg(300, y, 320, y + 25, 3);
});
// network
G.push({type: 'ellipse', z: 20, shape: {cx: 440, cy: 240, rx: 104, ry: 91}, style: {fill: 'none', stroke: '#000', lineWidth: 3}});
function arrow(x1, y1, cx, cy, x2, y2) {
  G.push({type: 'bezierCurve', z: 21, shape: {x1, y1, cpx1: cx, cpy1: cy, x2, y2}, style: {stroke: '#000', lineWidth: 3, fill: 'none'}});
  const a = Math.atan2(y2 - cy, x2 - cx), len = 16, w = 13;
  const bx = x2 - len * Math.cos(a), by = y2 - len * Math.sin(a);
  const px = -Math.sin(a) * w / 2, py = Math.cos(a) * w / 2;
  G.push({type: 'polygon', z: 22, shape: {points: [[x2, y2], [bx + px, by + py], [bx - px, by - py]]}, style: {fill: '#000'}});
}
arrow(383, 218, 390, 195, 409, 188);
arrow(448, 180, 492, 182, 505, 213);
arrow(430, 197, 433, 217, 440, 238);
arrow(427, 243, 405, 236, 385, 231);
arrow(498, 230, 472, 229, 459, 240);
arrow(458, 255, 485, 254, 511, 245);
arrow(457, 265, 457, 276, 453, 291);
arrow(420, 302, 356, 296, 357, 242);
arrow(532, 231, 570, 231, 608, 231);
[[430, 182, 17, 15], [367, 222, 16, 14], [442, 252, 17, 14], [436, 298, 17, 15]].forEach(([cx, cy, rx, ry]) => {
  G.push({type: 'ellipse', z: 23, shape: {cx, cy, rx, ry}, style: {fill: '#fff', stroke: '#000', lineWidth: 2.5}});
});
G.push({type: 'ellipse', z: 23, shape: {cx: 515, cy: 230, rx: 17, ry: 14}, style: {fill: '#fff', stroke: '#ee0000', lineWidth: 3}});
txt(680, 163, 'Response', 25, {color: '#ff0000'});
// panel b labels
txt(49, 435, 'b', 27, {weight: 'bold'});
txt(45, 672, 'Error', 21, {family: FONT, rotation: Math.PI / 2});
txt(287, 911, 'Trial #', 22, {family: FONT});
// panel c labels
txt(605, 394, 'c', 27, {weight: 'bold'});
txt(800, 350, 'Before training:', 26, {family: FONT});
txt(1076, 350, 'After training:', 26, {family: FONT});
txt(625, 494, 'Stims. A & B', 21, {family: FONT, rotation: Math.PI / 2});
txt(625, 771, 'Stims. A & A', 21, {family: FONT, rotation: Math.PI / 2});
txt(799, 944, 'Time (ms)', 21, {family: FONT});
txt(1076, 944, 'Time (ms)', 21, {family: FONT});
// caption
const ctx = document.createElement('canvas').getContext('2d');
ctx.font = '100px "Liberation Serif"';
const capSize = 100 * 1202 / ctx.measureText(captionLines[0]).width;
captionLines.forEach((s, i) => txt(24, 1067 + 55.5 * i, s, capSize.toFixed(2), {family: 'Liberation Serif', align: 'left'}));

chart.setOption({
  animation: false,
  backgroundColor: '#ffffff',
  textStyle: {fontFamily: FONT},
  grid: grids,
  xAxis: xAxes,
  yAxis: yAxes,
  series,
  graphic: {elements: G}
});
</script></body></html>
